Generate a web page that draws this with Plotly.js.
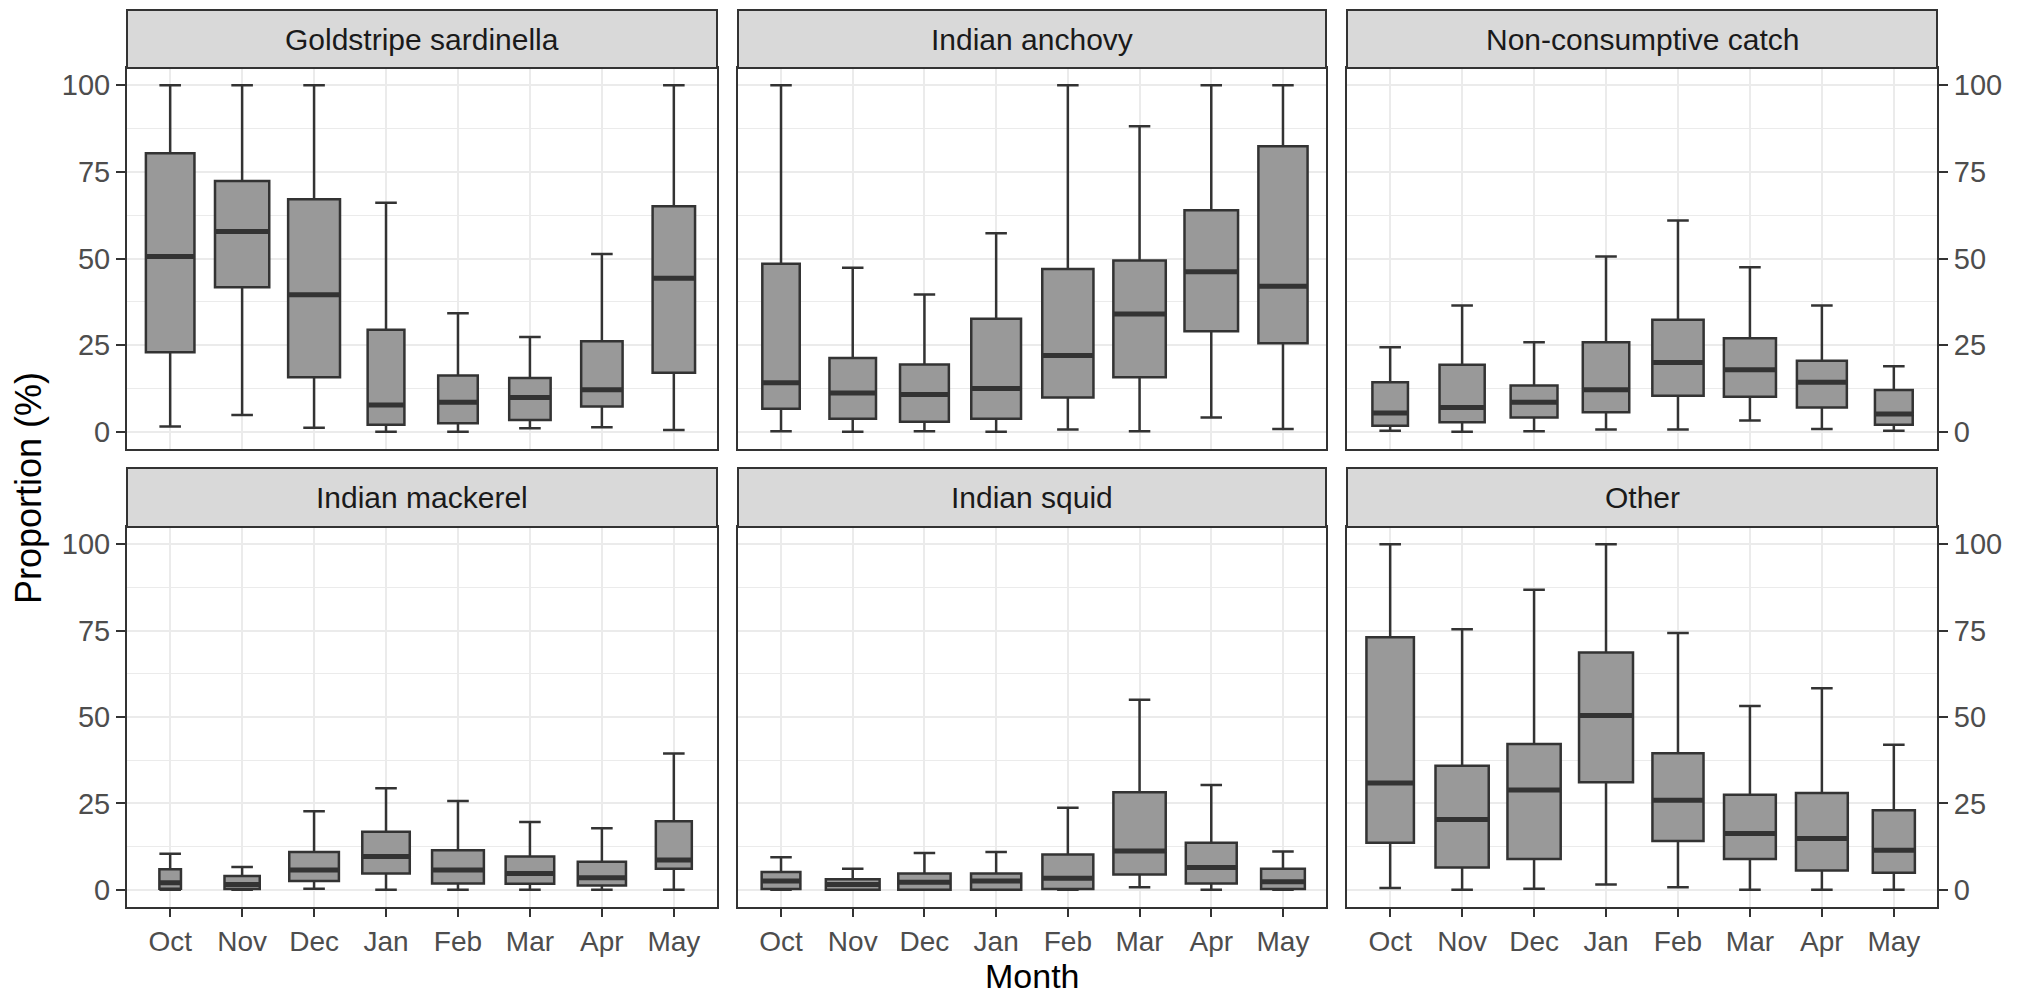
<!DOCTYPE html>
<html><head><meta charset="utf-8">
<script src="https://cdn.plot.ly/plotly-3.0.1.min.js"></script>
<style>html,body{margin:0;padding:0;background:#fff;}#chart{width:2021px;height:996px;}</style>
</head><body><div id="chart"></div>
<script>
const months = ['Oct','Nov','Dec','Jan','Feb','Mar','Apr','May'];
const speciesNames = ['Goldstripe sardinella','Indian anchovy','Non-consumptive catch','Indian mackerel','Indian squid','Other'];
const yTicks = [0, 25, 50, 75, 100];

// Goldstripe sardinella
const sardLower  = [1.5, 4.8, 1.1, 0, 0, 1.0, 1.3, 0.5];
const sardQ1     = [22.9, 41.7, 15.7, 2.0, 2.4, 3.4, 7.3, 17.0];
const sardMedian = [50.6, 57.8, 39.5, 7.7, 8.5, 9.9, 12.1, 44.3];
const sardQ3     = [80.4, 72.4, 67.1, 29.4, 16.2, 15.5, 26.1, 65.1];
const sardUpper  = [100, 100, 100, 66.1, 34.2, 27.3, 51.3, 100];

// Indian anchovy
const anchLower  = [0.1, 0, 0.1, 0, 0.6, 0.1, 4.1, 0.8];
const anchQ1     = [6.6, 3.7, 2.9, 3.7, 9.9, 15.7, 29.0, 25.5];
const anchMedian = [14.1, 11.2, 10.7, 12.5, 22.0, 34.0, 46.2, 42.0];
const anchQ3     = [48.5, 21.3, 19.4, 32.6, 47.0, 49.4, 63.9, 82.4];
const anchUpper  = [100, 47.3, 39.6, 57.3, 100, 88.2, 100, 100];

// Non-consumptive catch
const nonLower  = [0.3, 0, 0.1, 0.6, 0.6, 3.2, 0.8, 0.3];
const nonQ1     = [1.7, 2.7, 4.1, 5.6, 10.4, 10.1, 7.0, 2.0];
const nonMedian = [5.4, 7.0, 8.5, 12.1, 20.0, 17.9, 14.3, 5.1];
const nonQ3     = [14.3, 19.3, 13.3, 25.8, 32.3, 27.0, 20.5, 12.0];
const nonUpper  = [24.4, 36.4, 25.8, 50.6, 61.0, 47.5, 36.4, 18.9];

// Indian mackerel
const mackLower  = [0, 0, 0.3, 0, 0, 0, 0, 0];
const mackQ1     = [0.3, 0.2, 2.5, 4.7, 1.8, 1.7, 1.2, 6.1];
const mackMedian = [2.0, 1.5, 5.7, 9.6, 5.7, 4.7, 3.5, 8.6];
const mackQ3     = [5.9, 4.0, 10.9, 16.8, 11.4, 9.6, 8.1, 19.8];
const mackUpper  = [10.4, 6.6, 22.7, 29.4, 25.7, 19.6, 17.8, 39.4];

// Indian squid
const squidLower  = [0, 0, 0, 0, 0, 0.7, 0, 0];
const squidQ1     = [0.2, 0, 0, 0, 0.2, 4.4, 1.8, 0.2];
const squidMedian = [2.5, 1.5, 2.2, 2.5, 3.3, 11.2, 6.4, 2.3];
const squidQ3     = [5.1, 3.0, 4.7, 4.7, 10.2, 28.2, 13.6, 6.1];
const squidUpper  = [9.4, 6.1, 10.6, 10.9, 23.7, 55.0, 30.3, 11.1];

// Other
const otherLower  = [0.5, 0, 0.3, 1.5, 0.7, 0, 0, 0];
const otherQ1     = [13.6, 6.4, 8.9, 31.1, 14.1, 8.9, 5.6, 4.9];
const otherMedian = [30.9, 20.3, 28.9, 50.4, 25.9, 16.3, 14.8, 11.4];
const otherQ3     = [73.1, 35.9, 42.2, 68.7, 39.5, 27.5, 28.0, 23.0];
const otherUpper  = [100, 75.4, 86.8, 100, 74.3, 53.2, 58.3, 42.0];

// relative box widths (varwidth-like, fraction of category spacing)
const sardWidth  = [0.675, 0.754, 0.721, 0.511, 0.55, 0.576, 0.576, 0.59];
const anchWidth  = [0.522, 0.649, 0.681, 0.694, 0.714, 0.731, 0.747, 0.686];
const nonWidth   = [0.494, 0.628, 0.651, 0.646, 0.713, 0.724, 0.694, 0.525];
const mackWidth  = [0.30, 0.49, 0.69, 0.66, 0.72, 0.675, 0.67, 0.50];
const squidWidth = [0.54, 0.75, 0.73, 0.70, 0.71, 0.73, 0.71, 0.61];
const otherWidth = [0.66, 0.74, 0.74, 0.75, 0.71, 0.72, 0.72, 0.585];

const panelStats = [
  {lo: sardLower,  q1: sardQ1,  md: sardMedian,  q3: sardQ3,  hi: sardUpper,  w: sardWidth},
  {lo: anchLower,  q1: anchQ1,  md: anchMedian,  q3: anchQ3,  hi: anchUpper,  w: anchWidth},
  {lo: nonLower,   q1: nonQ1,   md: nonMedian,   q3: nonQ3,   hi: nonUpper,   w: nonWidth},
  {lo: mackLower,  q1: mackQ1,  md: mackMedian,  q3: mackQ3,  hi: mackUpper,  w: mackWidth},
  {lo: squidLower, q1: squidQ1, md: squidMedian, q3: squidQ3, hi: squidUpper, w: squidWidth},
  {lo: otherLower, q1: otherQ1, md: otherMedian, q3: otherQ3, hi: otherUpper, w: otherWidth}
];

const W = 2021, H = 996;
const FONT = 'Liberation Sans, Arial, Helvetica, sans-serif';
const panelX = [[127, 717], [738, 1326], [1347, 1937]];
const rows = [{strip: [10, 68], plot: [68, 449]}, {strip: [468, 527], plot: [527, 907]}];
const capWidth = 0.3;

const traces = [];
const layout = {
  width: W, height: H, autosize: false,
  margin: {l: 0, r: 0, t: 0, b: 0, pad: 0},
  paper_bgcolor: '#ffffff', plot_bgcolor: '#ffffff',
  showlegend: false, boxmode: 'overlay',
  font: {family: FONT, color: '#4d4d4d'},
  shapes: [], annotations: []
};

speciesNames.forEach((name, p) => {
  const col = p % 3, row = Math.floor(p / 3);
  const s = p === 0 ? '' : String(p + 1);
  const st = panelStats[p];
  months.forEach((m, i) => {
    const common = {
      type: 'box', x: [m], xaxis: 'x' + s, yaxis: 'y' + s,
      boxpoints: false, hoverinfo: 'skip', showlegend: false, width: st.w[i]
    };
    traces.push(Object.assign({}, common, {
      q1: [st.q1[i]], median: [st.md[i]], q3: [st.q3[i]],
      lowerfence: [st.lo[i]], upperfence: [st.hi[i]],
      whiskerwidth: Math.min(1, capWidth / st.w[i]),
      fillcolor: '#999999', line: {color: '#333333', width: 2.5}
    }));
    traces.push(Object.assign({}, common, {
      q1: [st.md[i]], median: [st.md[i]], q3: [st.md[i]],
      lowerfence: [st.md[i]], upperfence: [st.md[i]],
      whiskerwidth: 0,
      fillcolor: 'rgba(0,0,0,0)', line: {color: '#333333', width: 5}
    }));
  });

  const px = panelX[col], r = rows[row];
  layout['xaxis' + s] = {
    domain: [px[0] / W, px[1] / W], anchor: 'y' + s,
    type: 'category', categoryorder: 'array', categoryarray: months,
    range: [-0.6, 7.6], fixedrange: true,
    showgrid: true, gridcolor: '#ebebeb', gridwidth: 2,
    showline: true, mirror: true, linecolor: '#333333', linewidth: 2, zeroline: false,
    ticks: row === 1 ? 'outside' : '', ticklen: 8, tickwidth: 2, tickcolor: '#333333',
    showticklabels: row === 1,
    tickfont: {family: FONT, size: 28, color: '#4d4d4d'}
  };
  layout['yaxis' + s] = {
    domain: [(H - r.plot[1]) / H, (H - r.plot[0]) / H], anchor: 'x' + s,
    range: [-5, 105], fixedrange: true,
    tickmode: 'array', tickvals: yTicks, ticktext: yTicks.map(String),
    minor: {tickvals: [12.5, 37.5, 62.5, 87.5], showgrid: true, gridcolor: '#ebebeb', gridwidth: 1},
    showgrid: true, gridcolor: '#ebebeb', gridwidth: 2,
    showline: true, mirror: true, linecolor: '#333333', linewidth: 2, zeroline: false,
    side: col === 2 ? 'right' : 'left',
    ticks: col === 1 ? '' : 'outside', ticklen: 9, tickwidth: 2, tickcolor: '#333333',
    showticklabels: col !== 1,
    tickfont: {family: FONT, size: 29, color: '#4d4d4d'}
  };
  layout.shapes.push({
    type: 'rect', xref: 'paper', yref: 'paper',
    x0: px[0] / W, x1: px[1] / W, y0: (H - r.strip[1]) / H, y1: (H - r.strip[0]) / H,
    fillcolor: '#d9d9d9', line: {color: '#333333', width: 2}, layer: 'above'
  });
  layout.annotations.push({
    xref: 'paper', yref: 'paper', showarrow: false,
    x: (px[0] + px[1]) / 2 / W, y: (H - (r.strip[0] + r.strip[1]) / 2) / H,
    xanchor: 'center', yanchor: 'middle',
    text: name, font: {family: FONT, size: 30, color: '#1a1a1a'}
  });
});

layout.annotations.push({
  xref: 'paper', yref: 'paper', showarrow: false,
  x: 28 / W, y: (H - 488) / H, xanchor: 'center', yanchor: 'middle', textangle: -90,
  text: 'Proportion (%)', font: {family: FONT, size: 36, color: '#000000'}
});
layout.annotations.push({
  xref: 'paper', yref: 'paper', showarrow: false,
  x: (738 + 1326) / 2 / W, y: (H - 976) / H, xanchor: 'center', yanchor: 'middle',
  text: 'Month', font: {family: FONT, size: 34, color: '#000000'}
});

Plotly.newPlot('chart', traces, layout, {staticPlot: true, displayModeBar: false});
</script>
</body></html>
